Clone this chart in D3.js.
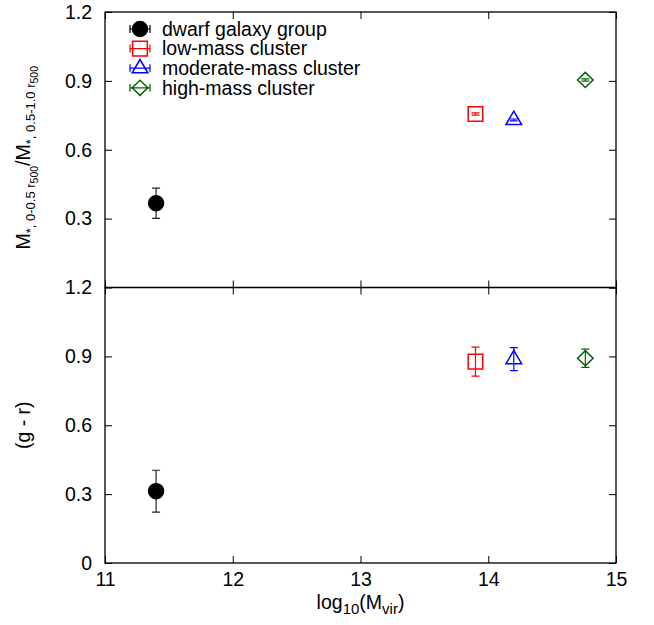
<!DOCTYPE html>
<html>
<head>
<meta charset="utf-8">
<script src="https://cdn.jsdelivr.net/npm/d3@7"></script>
<style>
  body { margin: 0; background: #fff; }
  svg { display: block; font-family: "Liberation Sans", Arial, sans-serif; }
</style>
</head>
<body>
<svg id="chart" width="654" height="625"></svg>
<script>
// data
const groups = ["dwarf galaxy group", "low-mass cluster", "moderate-mass cluster", "high-mass cluster"];
const logMvir = [11.4, 13.9, 14.2, 14.76];
const massRatio = [0.367, 0.756, 0.73, 0.904];
const massRatioErr = [0.066, 0.005, 0.004, 0.005];
const colorGR = [0.313, 0.877, 0.888, 0.892];
const colorGRErr = [0.091, 0.063, 0.05, 0.04];
const colors = ["#000000", "#ff0000", "#0000ff", "#006400"];
const shapes = ["circle", "square", "triangle", "diamond"];
const yTicks = [0, 0.3, 0.6, 0.9, 1.2];
const xTicks = [11, 12, 13, 14, 15];

const svg = d3.select("#chart");
const plotLeft = 105, plotRight = 616, plotTop = 12, plotMid = 287.5, plotBottom = 563;
const tick = 7;
const fontSize = "19.5px";

const x = d3.scaleLinear().domain([11, 15]).range([plotLeft, plotRight]);
const yTop = d3.scaleLinear().domain([0, 1.2]).range([plotMid, plotTop]);
const yBot = d3.scaleLinear().domain([0, 1.2]).range([plotBottom, plotMid]);

const fmtY = d => d === 0 ? "0" : d3.format(".1f")(d);

// marker shapes centred on 0,0
function markerPath(shape) {
    const p = d3.path();
    if (shape === "square") {
        p.rect(-7.3, -7.3, 14.6, 14.6);
    } else if (shape === "triangle") {
        p.moveTo(0, -8.7); p.lineTo(7.8, 4.6); p.lineTo(-7.8, 4.6); p.closePath();
    } else if (shape === "diamond") {
        p.moveTo(0, -7.6); p.lineTo(7.8, 0); p.lineTo(0, 7.6); p.lineTo(-7.8, 0); p.closePath();
    } else {
        p.arc(0, 0, 7.5, 0, 2 * Math.PI);
    }
    return p.toString();
}

function styleAxis(g) {
    g.select(".domain").remove();
    g.selectAll(".tick line").attr("stroke", "#000").attr("stroke-width", 1);
    g.selectAll(".tick text")
        .attr("fill", "#000")
        .style("font-size", fontSize)
        .style("font-family", "'Liberation Sans', Arial, sans-serif");
}

function drawPanel(y, values, errs, labelTicks) {
    // left axis with labels
    svg.append("g").attr("transform", `translate(${plotLeft},0)`)
        .call(d3.axisLeft(y).tickValues(labelTicks).tickFormat(fmtY).tickSize(-tick).tickPadding(13))
        .call(styleAxis);
    // right mirror ticks
    svg.append("g").attr("transform", `translate(${plotRight},0)`)
        .call(d3.axisRight(y).tickValues(yTicks).tickFormat("").tickSize(-tick))
        .call(styleAxis);
    // top and bottom ticks for the panel
    svg.append("g").attr("transform", `translate(0,${y.range()[1]})`)
        .call(d3.axisTop(x).tickValues(xTicks).tickFormat("").tickSize(-tick))
        .call(styleAxis);
    svg.append("g").attr("transform", `translate(0,${y.range()[0]})`)
        .call(d3.axisBottom(x).tickValues(xTicks).tickFormat("").tickSize(-tick))
        .call(styleAxis);

    const pts = svg.append("g").selectAll("g")
        .data(groups.map((g, i) => ({ i, x: logMvir[i], y: values[i], e: errs[i] })))
        .join("g");

    // error bars
    pts.append("path")
        .attr("d", d => {
            const cx = x(d.x), y1 = y(d.y + d.e), y0 = y(d.y - d.e);
            return `M${cx},${y1}V${y0}M${cx - 4},${y1}H${cx + 4}M${cx - 4},${y0}H${cx + 4}`;
        })
        .attr("stroke", d => d.i === 0 ? "#222" : colors[d.i])
        .attr("stroke-width", 1.2)
        .attr("fill", "none");

    pts.append("path")
        .attr("transform", d => `translate(${x(d.x)},${y(d.y)})`)
        .attr("d", d => markerPath(shapes[d.i]))
        .attr("fill", d => d.i === 0 ? "#000" : "none")
        .attr("stroke", d => colors[d.i])
        .attr("stroke-width", 1.5);
}

drawPanel(yTop, massRatio, massRatioErr, [0.3, 0.6, 0.9, 1.2]);
drawPanel(yBot, colorGR, colorGRErr, yTicks);

// x tick labels on bottom
svg.append("g").attr("transform", `translate(0,${plotBottom})`)
    .call(d3.axisBottom(x).tickValues(xTicks).tickFormat(d3.format("d")).tickSize(0).tickPadding(9))
    .call(styleAxis);

// frames
svg.append("rect").attr("x", plotLeft).attr("y", plotTop).attr("width", plotRight - plotLeft).attr("height", plotMid - plotTop)
    .attr("fill", "none").attr("stroke", "#000").attr("stroke-width", 1.3);
svg.append("rect").attr("x", plotLeft).attr("y", plotMid).attr("width", plotRight - plotLeft).attr("height", plotBottom - plotMid)
    .attr("fill", "none").attr("stroke", "#000").attr("stroke-width", 1.3);

// axis titles
const xTitle = svg.append("text")
    .attr("x", (plotLeft + plotRight) / 2).attr("y", 609)
    .attr("text-anchor", "middle").style("font-size", fontSize);
xTitle.append("tspan").text("log");
xTitle.append("tspan").attr("dy", 5).style("font-size", "15px").text("10");
xTitle.append("tspan").attr("dy", -5).text("(M");
xTitle.append("tspan").attr("dy", 5).style("font-size", "15px").text("vir");
xTitle.append("tspan").attr("dy", -5).text(")");

const yTitleTop = svg.append("text")
    .attr("transform", `translate(30,${(plotTop + plotMid) / 2 + 8}) rotate(-90)`)
    .attr("text-anchor", "middle").style("font-size", fontSize);
yTitleTop.append("tspan").text("M");
yTitleTop.append("tspan").attr("dy", 5).style("font-size", "13px").text("*, 0-0.5 r");
yTitleTop.append("tspan").attr("dy", 3).style("font-size", "10.5px").text("500");
yTitleTop.append("tspan").attr("dy", -8).text("/M");
yTitleTop.append("tspan").attr("dy", 5).style("font-size", "13px").text("*, 0.5-1.0 r");
yTitleTop.append("tspan").attr("dy", 3).style("font-size", "10.5px").text("500");

svg.append("text")
    .attr("transform", `translate(30,${(plotMid + plotBottom) / 2}) rotate(-90)`)
    .attr("text-anchor", "middle").style("font-size", fontSize)
    .text("(g - r)");

// legend
const legend = svg.append("g").selectAll("g")
    .data(groups)
    .join("g")
    .attr("transform", (d, i) => `translate(140,${29 + i * 19.6})`);

legend.append("path")
    .attr("d", "M-10,0H10M-10,-4V4M10,-4V4")
    .attr("stroke", (d, i) => colors[i])
    .attr("stroke-width", 1.2);
legend.append("path")
    .attr("d", (d, i) => markerPath(shapes[i]))
    .attr("fill", (d, i) => i === 0 ? "#000" : "none")
    .attr("stroke", (d, i) => colors[i])
    .attr("stroke-width", 1.5);
legend.append("text")
    .attr("x", 22).attr("dy", "0.35em")
    .style("font-size", fontSize)
    .text(d => d);
</script>
</body>
</html>
